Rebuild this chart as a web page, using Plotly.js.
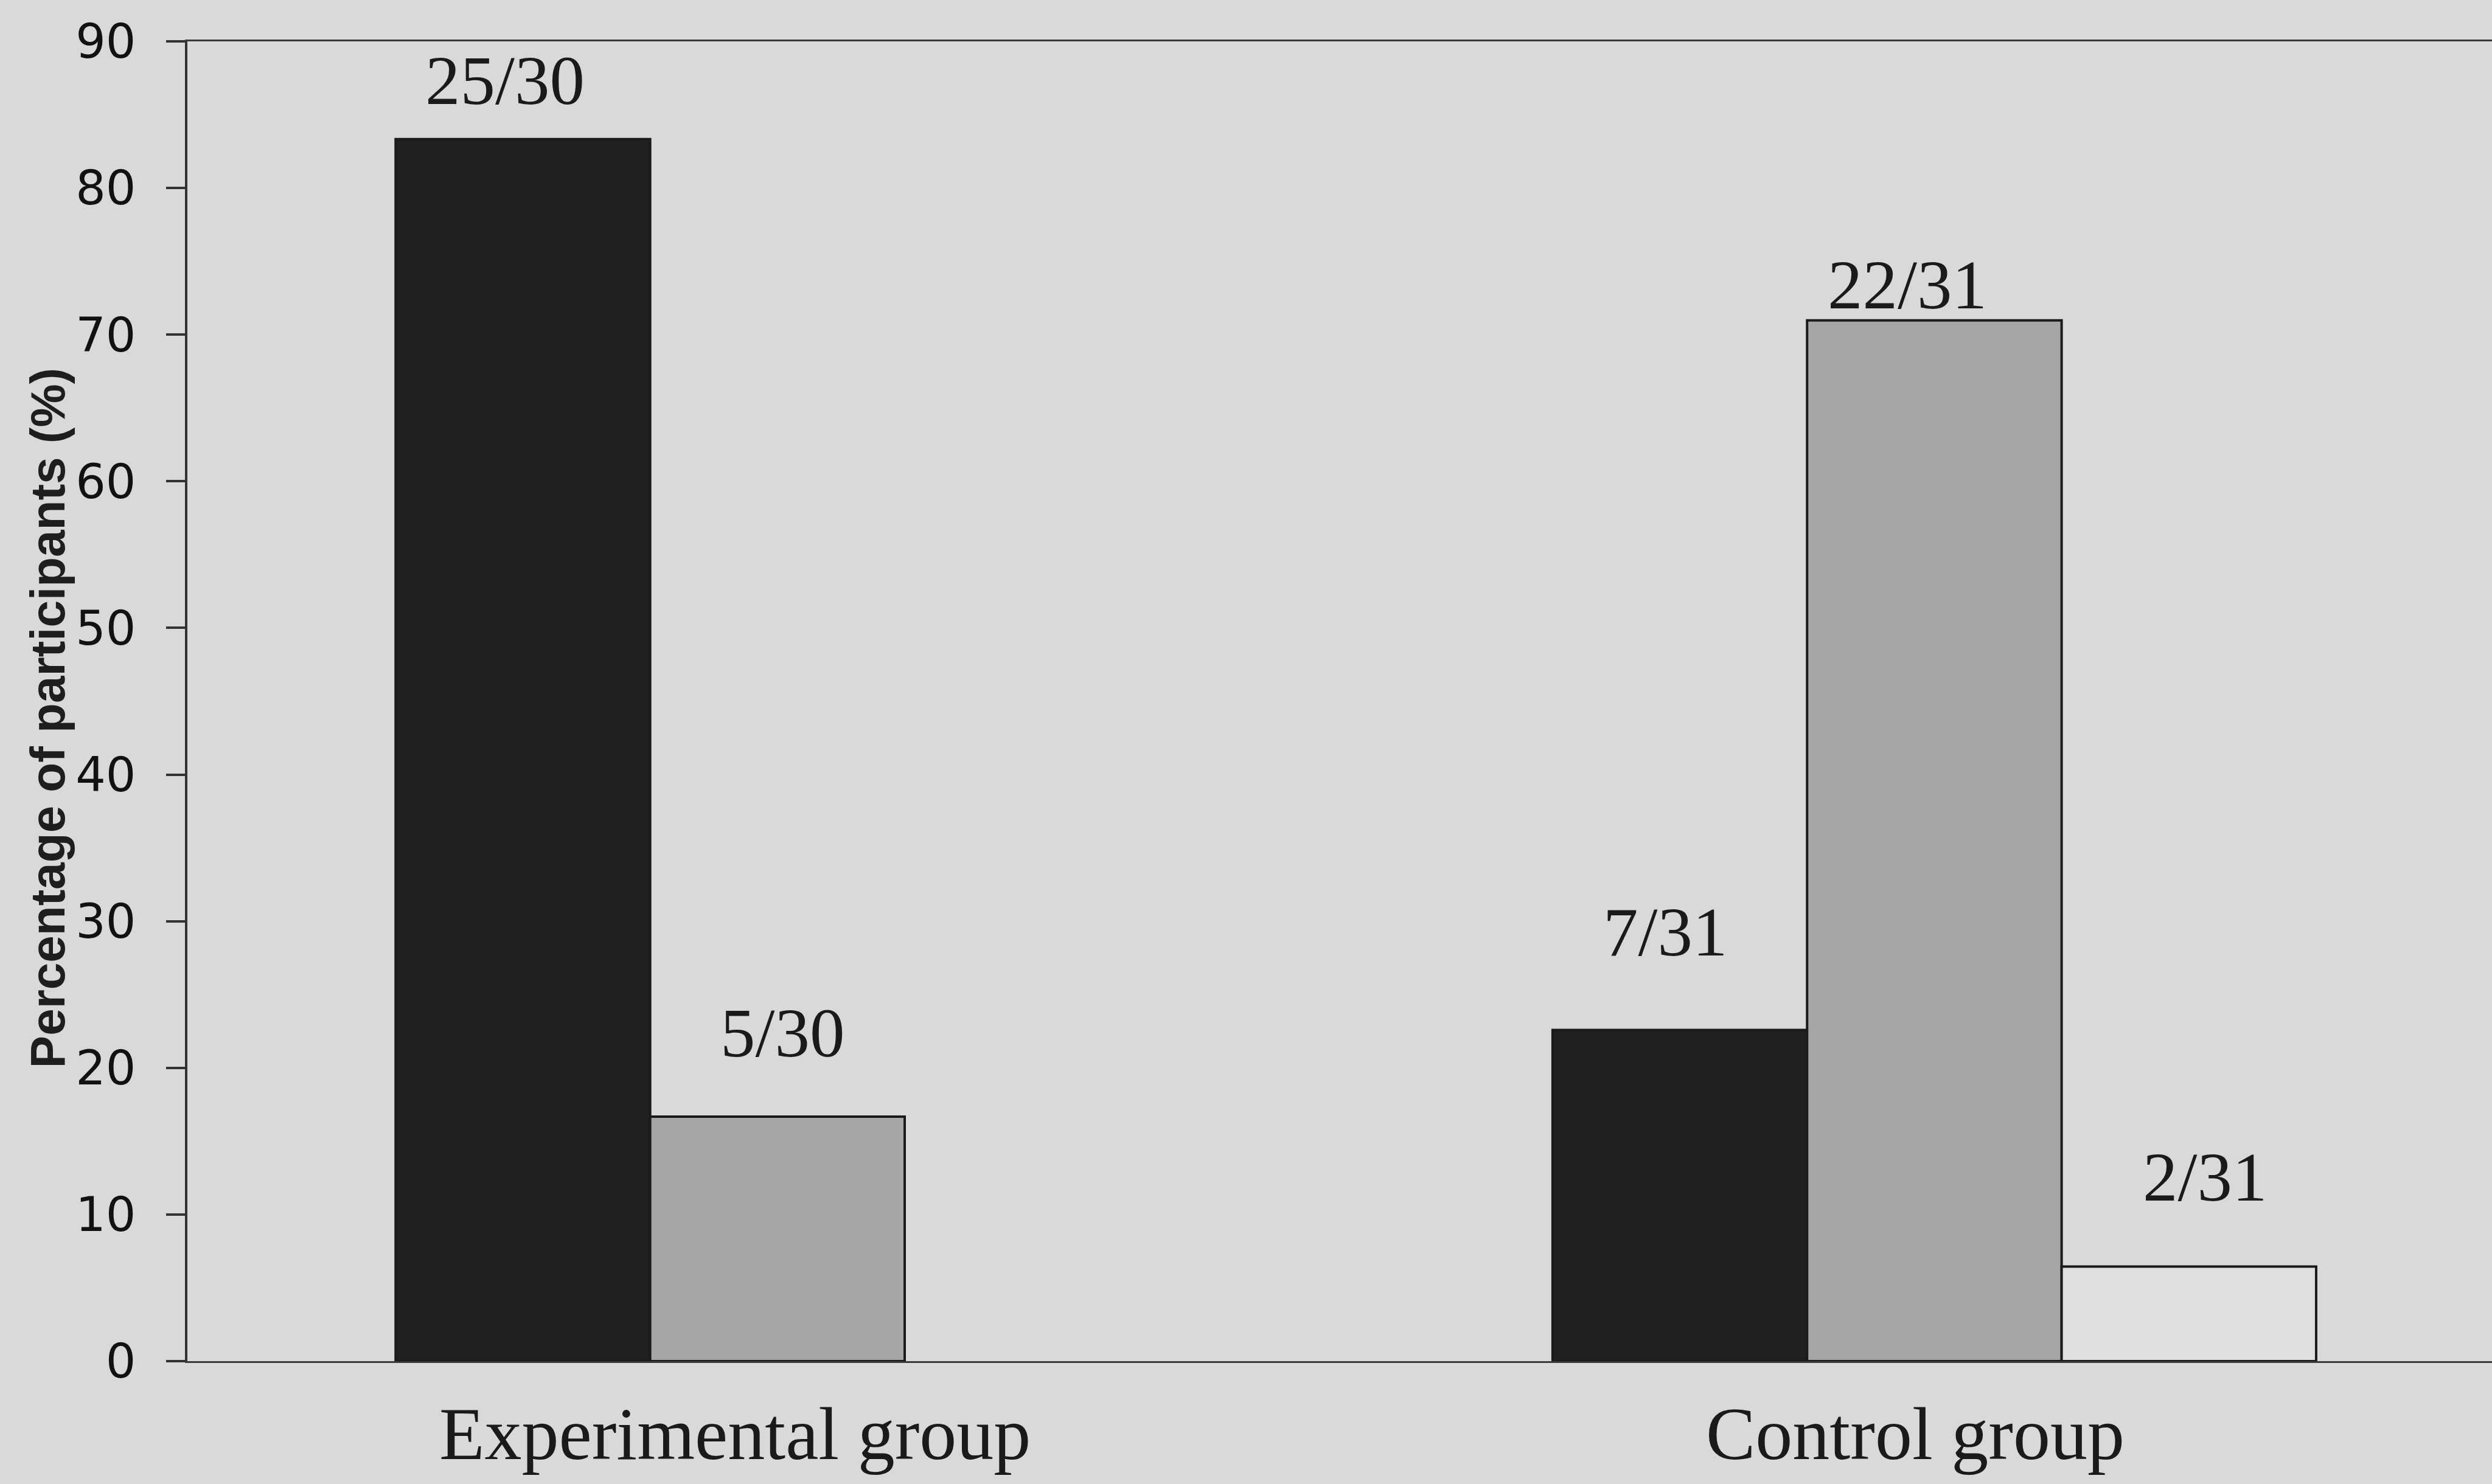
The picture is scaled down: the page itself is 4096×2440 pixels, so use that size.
<!DOCTYPE html>
<html>
<head>
<meta charset="utf-8">
<script src="https://cdn.plot.ly/plotly-3.0.1.min.js"></script>
<style>html,body{margin:0;padding:0;background:#d9d9d9;}#chart{width:4096px;height:2440px;}</style>
</head>
<body>
<div id="chart"></div>
<script>
// Data
const categories = ['Experimental group', 'Control group'];
const seriesBlack = [83.33, 22.58];
const seriesGray = [16.67, 70.97];
const seriesWhite = [null, 6.45];
const labelsBlack = ['25/30', '7/31'];
const labelsGray = ['5/30', '22/31'];
const labelsWhite = ['', '2/31'];
const yTicks = [0, 10, 20, 30, 40, 50, 60, 70, 80, 90];
const yTitle = 'Percentage of participants (%)';

// Layout / style settings (not data)
const W = 4096, H = 2440;
const margin = {l: 308, r: 0, t: 68, b: 202};
const xRange = [-0.51, 1.482];
const bargap = 0.34;
const nSeries = 3;
// per-label nudges in pixels [dx, dy] (label placement styling), per series, per category
const labelNudge = [
  [[-29, 96], [-24, 161]],   // black series
  [[8, 138], [-44, 58]],     // gray series
  [[0, 0], [26, 147]]        // white series
];

const serif = 'Liberation Serif, Times New Roman, serif';
const textFont = {family: serif, size: 115, color: '#1a1a1a'};

function barTrace(y, color) {
  return {
    type: 'bar', x: categories, y: y,
    marker: {color: color, line: {color: '#1a1a1a', width: 4}},
    hoverinfo: 'skip'
  };
}

const seriesValues = [seriesBlack, seriesGray, seriesWhite];
const seriesLabels = [labelsBlack, labelsGray, labelsWhite];
const data = [
  barTrace(seriesBlack, '#202020'),
  barTrace(seriesGray, '#a6a6a6'),
  barTrace(seriesWhite, '#e0e0e0')
];

// pixel width of one bar slot, derived from the axis scale
const pxPerCat = (W - margin.l - margin.r) / (xRange[1] - xRange[0]);
const slotPx = pxPerCat * (1 - bargap) / nSeries;

const annotations = [];
seriesValues.forEach((vals, s) => {
  vals.forEach((v, c) => {
    if (v === null || !seriesLabels[s][c]) return;
    annotations.push({
      text: seriesLabels[s][c], x: categories[c], xref: 'x', y: v, yref: 'y',
      xshift: (s - (nSeries - 1) / 2) * slotPx + labelNudge[s][c][0],
      yshift: labelNudge[s][c][1],
      xanchor: 'center', yanchor: 'middle', showarrow: false, font: textFont
    });
  });
});

annotations.push(
  {text: categories[0], x: categories[0], xref: 'x', y: 0, yref: 'paper',
   xshift: -70, yshift: -119, yanchor: 'middle', xanchor: 'center', showarrow: false,
   font: {family: serif, size: 122, color: '#1a1a1a'}},
  {text: categories[1], x: categories[1], xref: 'x', y: 0, yref: 'paper',
   xshift: -31, yshift: -119, yanchor: 'middle', xanchor: 'center', showarrow: false,
   font: {family: serif, size: 122, color: '#1a1a1a'}},
  {text: yTitle, x: 0, xref: 'paper', y: 0.487, yref: 'paper', xshift: -230,
   textangle: -90, xanchor: 'center', yanchor: 'middle', showarrow: false,
   font: {family: 'Liberation Sans, Arial, sans-serif', size: 80, weight: 'bold', color: '#1e1e1e'}}
);

const layout = {
  width: W, height: H,
  paper_bgcolor: '#d9d9d9', plot_bgcolor: '#d9d9d9',
  margin: {l: margin.l, r: margin.r, t: margin.t, b: margin.b, pad: 0},
  showlegend: false,
  barmode: 'group', bargap: bargap, bargroupgap: 0,
  xaxis: {
    type: 'category', range: xRange,
    showticklabels: false, ticks: '', showgrid: false, zeroline: false,
    showline: true, mirror: true, linecolor: '#3a3a3a', linewidth: 3
  },
  yaxis: {
    range: [0, 90], tickvals: yTicks, ticks: 'outside', ticklen: 31, tickwidth: 4,
    tickcolor: '#333', showgrid: false, zeroline: false,
    showline: true, linecolor: '#333', linewidth: 4,
    ticklabelstandoff: 34,
    tickfont: {family: 'DejaVu Sans, sans-serif', size: 78, color: '#111111'}
  },
  annotations: annotations
};

Plotly.newPlot('chart', data, layout, {staticPlot: true, displayModeBar: false});
</script>
</body>
</html>
